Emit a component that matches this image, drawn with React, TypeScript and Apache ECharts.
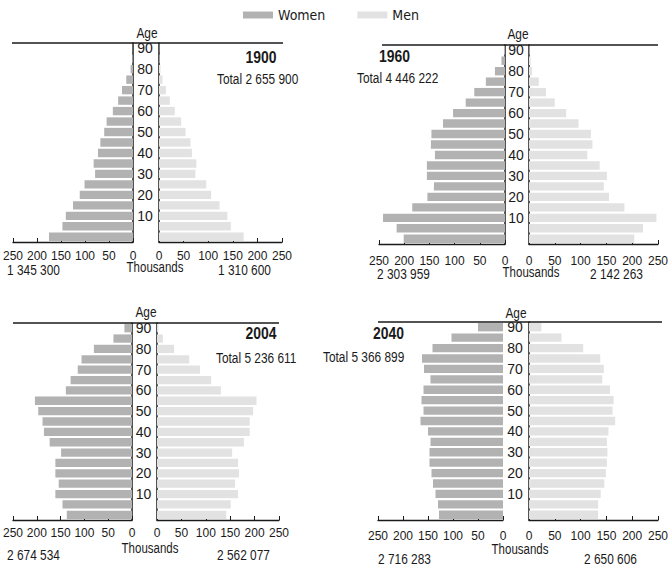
import React, { useEffect, useRef } from "react";
import * as echarts from "echarts";

// Age groups (start age of each 5-year band, bottom to top)
const ages = ["0", "5", "10", "15", "20", "25", "30", "35", "40", "45", "50", "55", "60", "65", "70", "75", "80", "85", "90"];

// Thousands of persons, bottom (0-4) to top (90+)
const women1900 = [175, 147, 140, 125, 111, 101, 79, 82, 73, 68, 60, 55, 42, 31, 23, 14, 5, 1.5, 0.5];
const men1900 = [172, 146, 139, 123, 106, 96, 74, 76, 67, 64, 54, 45, 32, 22, 14, 7, 3, 1, 0.5];
const women1960 = [201, 215, 242, 184, 154, 141, 155, 155, 139, 147, 146, 123, 103, 78, 61, 38, 20, 7, 2];
const men1960 = [204, 221, 247, 185, 155, 145, 151, 137, 113, 123, 120, 96, 72, 50, 33, 19, 6, 3, 1];
const women2004 = [137, 146, 161, 154, 161, 161, 149, 173, 185, 188, 197, 204, 139, 129, 114, 106, 80, 39, 16];
const men2004 = [142, 151, 166, 160, 168, 166, 154, 178, 190, 190, 197, 204, 131, 111, 88, 66, 35, 12, 3];
const women2040 = [128, 130, 135, 140, 143, 147, 147, 145, 150, 165, 159, 163, 159, 145, 158, 162, 141, 103, 50];
const men2040 = [134, 134, 139, 146, 149, 151, 152, 151, 154, 167, 162, 164, 157, 142, 145, 138, 105, 63, 24];

const years = ["1900", "1960", "2004", "2040"];
const totals = ["Total 2 655 900", "Total 4 446 222", "Total 5 236 611", "Total 5 366 899"];
const womenTotals = ["1 345 300", "2 303 959", "2 674 534", "2 716 283"];
const menTotals = ["1 310 600", "2 142 263", "2 562 077", "2 650 606"];
const womenSeries = [women1900, women1960, women2004, women2040];
const menSeries = [men1900, men1960, men2004, men2040];
const axisTicks = { min: 0, max: 250, interval: 50 };

const FONT = "'Liberation Sans', Arial, sans-serif";
const LEGEND_FONT = "'DejaVu Sans Condensed', 'Liberation Sans', sans-serif";
const NARROW = 0.82;
const WOMEN_COLOR = "#b2b2b2";
const MEN_COLOR = "#e2e2e2";
const INK = "#1a1a1a";

// Layout of each panel (pixels)
const layouts = [
  { wl: 12, wr: 133, ml: 159, mr: 282, top: 43, bottom: 242, lineL: 12, lineR: 283, showWomenLine: true, tickM: 7.5,
    age: [147, 33], year: [261, 57, "center"], total: [217, 79, "left"], thY: 267, totY: 270, thX: 155, wtX: 7, mtX: 218 },
  { wl: 379, wr: 505, ml: 529, mr: 658, top: 45, bottom: 244, lineL: 382, lineR: 658, showWomenLine: true, tickM: 10.5,
    age: [518, 34], year: [379, 56, "left"], total: [357, 78, "left"], thY: 272, totY: 274, thX: 531, wtX: 377, mtX: 590 },
  { wl: 10, wr: 132, ml: 157, mr: 279, top: 323, bottom: 520, lineL: 13, lineR: 279, showWomenLine: true, tickM: 7,
    age: [146, 312], year: [261, 333, "center"], total: [216, 358, "left"], thY: 548, totY: 555, thX: 150, wtX: 7, mtX: 217 },
  { wl: 378, wr: 503, ml: 529, mr: 658, top: 322, bottom: 520, lineL: 378, lineR: 662, showWomenLine: false, tickM: 10,
    age: [516, 313], year: [373, 333, "left"], total: [323, 357, "left"], thY: 549, totY: 559, thX: 520, wtX: 378, mtX: 584 },
];

export default function App() {
  const ref = useRef<HTMLDivElement>(null);

  useEffect(() => {
    if (!ref.current) return;
    const chart = echarts.init(ref.current, undefined, { renderer: "svg" });

    const grid: any[] = [];
    const xAxis: any[] = [];
    const yAxis: any[] = [];
    const series: any[] = [];
    const graphic: any[] = [];

    const txt = (text: string, x: number, y: number, align: string, size: number, bold = false) => ({
      type: "text",
      x,
      y,
      scaleX: NARROW,
      z: 10,
      style: {
        text,
        fill: INK,
        fontFamily: FONT,
        fontSize: size,
        fontWeight: bold ? "bold" : "normal",
        textAlign: align,
        textVerticalAlign: "middle",
      },
    });

    layouts.forEach((L, p) => {
      const h = L.bottom - L.top;
      grid.push({ left: L.wl, top: L.top, width: L.wr - L.wl, height: h, containLabel: false });
      grid.push({ left: L.ml, top: L.top, width: L.mr - L.ml, height: h, containLabel: false });
      const wi = p * 2;
      const mi = p * 2 + 1;
      const xCommon = {
        type: "value",
        ...axisTicks,
        position: "bottom",
        axisLine: { show: true, lineStyle: { color: INK, width: 1.3 } },
        axisTick: { show: true, inside: true, length: 4, lineStyle: { color: INK, width: 1 } },
        axisLabel: { show: true, fontFamily: FONT, fontSize: 12, color: INK, margin: L.tickM, showMinLabel: true, showMaxLabel: true },
        splitLine: { show: false },
      };
      xAxis.push({ ...xCommon, gridIndex: wi, inverse: true });
      xAxis.push({ ...xCommon, gridIndex: mi });
      yAxis.push({
        type: "category",
        gridIndex: wi,
        data: ages,
        position: "right",
        axisLine: { show: L.showWomenLine, lineStyle: { color: INK, width: 1.5 } },
        axisTick: { show: false },
        axisLabel: { show: false },
        splitLine: { show: false },
      });
      const gap = L.ml - L.wr;
      yAxis.push({
        type: "category",
        gridIndex: mi,
        data: ages,
        position: "left",
        axisLine: { show: true, lineStyle: { color: INK, width: 1.5 } },
        axisTick: { show: false },
        axisLabel: {
          show: true,
          interval: 0,
          align: "center",
          margin: gap / 2 + 1,
          fontFamily: FONT,
          fontSize: 14,
          color: INK,
          formatter: (v: string) => (Number(v) % 10 === 0 && v !== "0" ? v : ""),
        },
        splitLine: { show: false },
      });
      series.push({
        type: "bar",
        name: "Women",
        xAxisIndex: wi,
        yAxisIndex: wi,
        data: womenSeries[p],
        barCategoryGap: "20%",
        itemStyle: { color: WOMEN_COLOR },
        silent: true,
      });
      series.push({
        type: "bar",
        name: "Men",
        xAxisIndex: mi,
        yAxisIndex: mi,
        data: menSeries[p],
        barCategoryGap: "20%",
        itemStyle: { color: MEN_COLOR },
        silent: true,
      });

      graphic.push({
        type: "line",
        shape: { x1: L.lineL, y1: L.top, x2: L.lineR, y2: L.top },
        style: { stroke: INK, lineWidth: 1.5 },
        z: 10,
      });
      graphic.push(txt("Age", L.age[0], L.age[1], "center", 14.5));
      graphic.push(txt(years[p], L.year[0] as number, L.year[1] as number, L.year[2] as string, 17, true));
      graphic.push(txt(totals[p], L.total[0] as number, L.total[1] as number, L.total[2] as string, 14.5));
      graphic.push(txt("Thousands", L.thX, L.thY, "center", 14));
      graphic.push(txt(womenTotals[p], L.wtX, L.totY, "left", 14.5));
      graphic.push(txt(menTotals[p], L.mtX, L.totY, "left", 14.5));
    });

    chart.setOption({
      animation: false,
      backgroundColor: "#ffffff",
      legend: {
        data: ["Women", "Men"],
        left: 243,
        top: 8,
        padding: 0,
        icon: "rect",
        itemWidth: 30,
        itemHeight: 7,
        itemGap: 32,
        selectedMode: false,
        textStyle: { fontFamily: LEGEND_FONT, fontSize: 14, color: INK },
      },
      grid,
      xAxis,
      yAxis,
      series,
      graphic,
    });

    return () => chart.dispose();
  }, []);

  return (
    <div
      ref={ref}
      style={{ position: "absolute", left: 0, top: 0, width: 671, height: 568, background: "#fff" }}
    />
  );
}
